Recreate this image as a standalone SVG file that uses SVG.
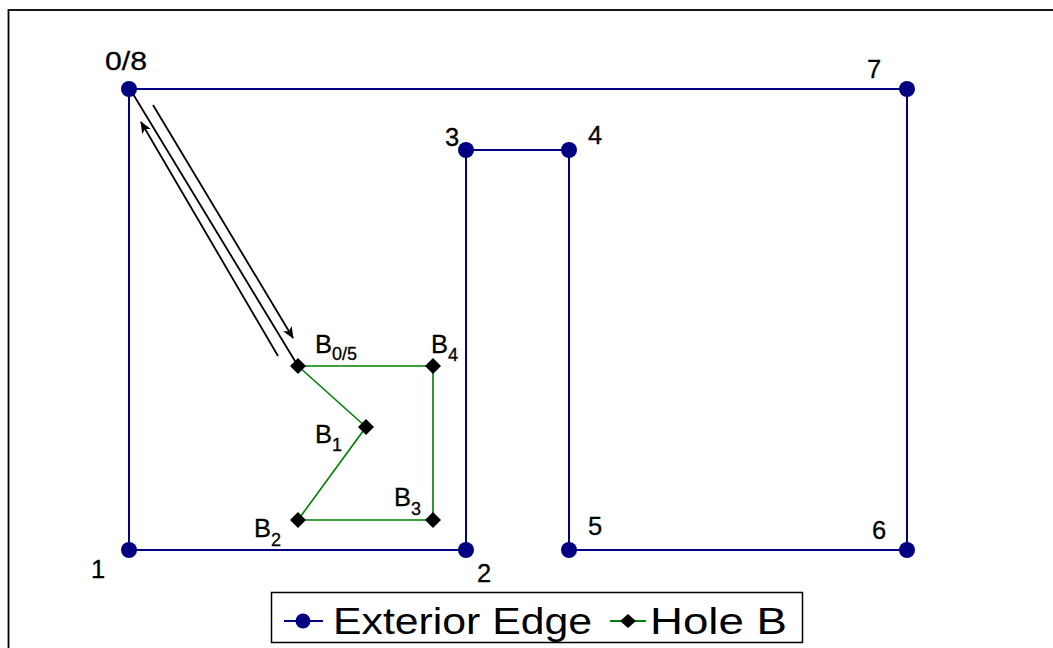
<svg xmlns="http://www.w3.org/2000/svg" width="1053" height="648" viewBox="0 0 1053 648">
<defs>
<style>
.ext{fill:none;stroke:#000080;stroke-width:2}
.hole{fill:none;stroke:#008000;stroke-width:1.6}
.dot{fill:#000080}
.dia{fill:#000}
.arr{fill:none;stroke:#000;stroke-width:1.8}
.lbl{font-family:"Liberation Sans",Arial,sans-serif;font-size:25.5px;fill:#000;stroke:#000;stroke-width:0.3}
.sub{font-size:18px}
.leg{font-family:"Liberation Sans",Arial,sans-serif;font-size:37px;fill:#000}
</style>
<marker id="ah" viewBox="0 0 12 10" refX="11" refY="5" markerWidth="12" markerHeight="10" markerUnits="userSpaceOnUse" orient="auto">
<path d="M0,0 L12,5 L0,10 L3,5 Z" fill="#000"/>
</marker>
</defs>
<rect x="8.5" y="10" width="1100" height="700" fill="#fff" stroke="#000" stroke-width="1.8"/>
<g id="connectors">
<polyline class="ext" points="129,89 129,550 466,550 466,150 569,150 569,550 907,550 907,89 129,89"/>
<polyline class="hole" points="298,366 366,427 298,520 433,520 433,366 298,366"/>
<line class="arr" x1="130" y1="89" x2="298" y2="366"/>
<line class="arr" x1="278" y1="356" x2="141" y2="122" marker-end="url(#ah)"/>
<line class="arr" x1="153" y1="105" x2="293" y2="338" marker-end="url(#ah)"/>
</g>
<g id="v0"><circle class="dot" cx="129" cy="89" r="8"/><text class="lbl" x="105" y="70" textLength="42" lengthAdjust="spacingAndGlyphs">0/8</text></g>
<g id="v1"><circle class="dot" cx="129" cy="550" r="8"/><text class="lbl" x="91" y="578">1</text></g>
<g id="v2"><circle class="dot" cx="466" cy="550" r="8"/><text class="lbl" x="477" y="582">2</text></g>
<g id="v3"><circle class="dot" cx="466" cy="150" r="8"/><text class="lbl" x="445" y="146">3</text></g>
<g id="v4"><circle class="dot" cx="569" cy="150" r="8"/><text class="lbl" x="588" y="144">4</text></g>
<g id="v5"><circle class="dot" cx="569" cy="550" r="8"/><text class="lbl" x="588" y="535">5</text></g>
<g id="v6"><circle class="dot" cx="907" cy="550" r="8"/><text class="lbl" x="872" y="539">6</text></g>
<g id="v7"><circle class="dot" cx="907" cy="89" r="8"/><text class="lbl" x="867" y="78">7</text></g>
<g id="b0"><path class="dia" d="M298,358 L306,366 L298,374 L290,366 Z"/><text class="lbl" x="315" y="353">B<tspan class="sub" dy="7">0/5</tspan></text></g>
<g id="b1"><path class="dia" d="M366,419 L374,427 L366,435 L358,427 Z"/><text class="lbl" x="315" y="443">B<tspan class="sub" dy="8">1</tspan></text></g>
<g id="b2"><path class="dia" d="M298,512 L306,520 L298,528 L290,520 Z"/><text class="lbl" x="254" y="537">B<tspan class="sub" dy="9">2</tspan></text></g>
<g id="b3"><path class="dia" d="M433,512 L441,520 L433,528 L425,520 Z"/><text class="lbl" x="394" y="506">B<tspan class="sub" dy="9">3</tspan></text></g>
<g id="b4"><path class="dia" d="M433,358 L441,366 L433,374 L425,366 Z"/><text class="lbl" x="431" y="353">B<tspan class="sub" dy="8">4</tspan></text></g>
<g id="legend">
<rect x="271.5" y="592.5" width="531" height="50" fill="#fff" stroke="#000" stroke-width="1.5"/>
<line x1="284" y1="621" x2="323" y2="621" stroke="#000080" stroke-width="2"/>
<circle class="dot" cx="303" cy="621" r="7.5"/>
<text class="leg" x="333" y="634" textLength="259" lengthAdjust="spacingAndGlyphs">Exterior Edge</text>
<line x1="610" y1="621" x2="646" y2="621" stroke="#008000" stroke-width="2"/>
<path class="dia" d="M628,614 L636,621 L628,628 L620,621 Z"/>
<text class="leg" x="650" y="634" textLength="137" lengthAdjust="spacingAndGlyphs">Hole B</text>
</g>
</svg>
